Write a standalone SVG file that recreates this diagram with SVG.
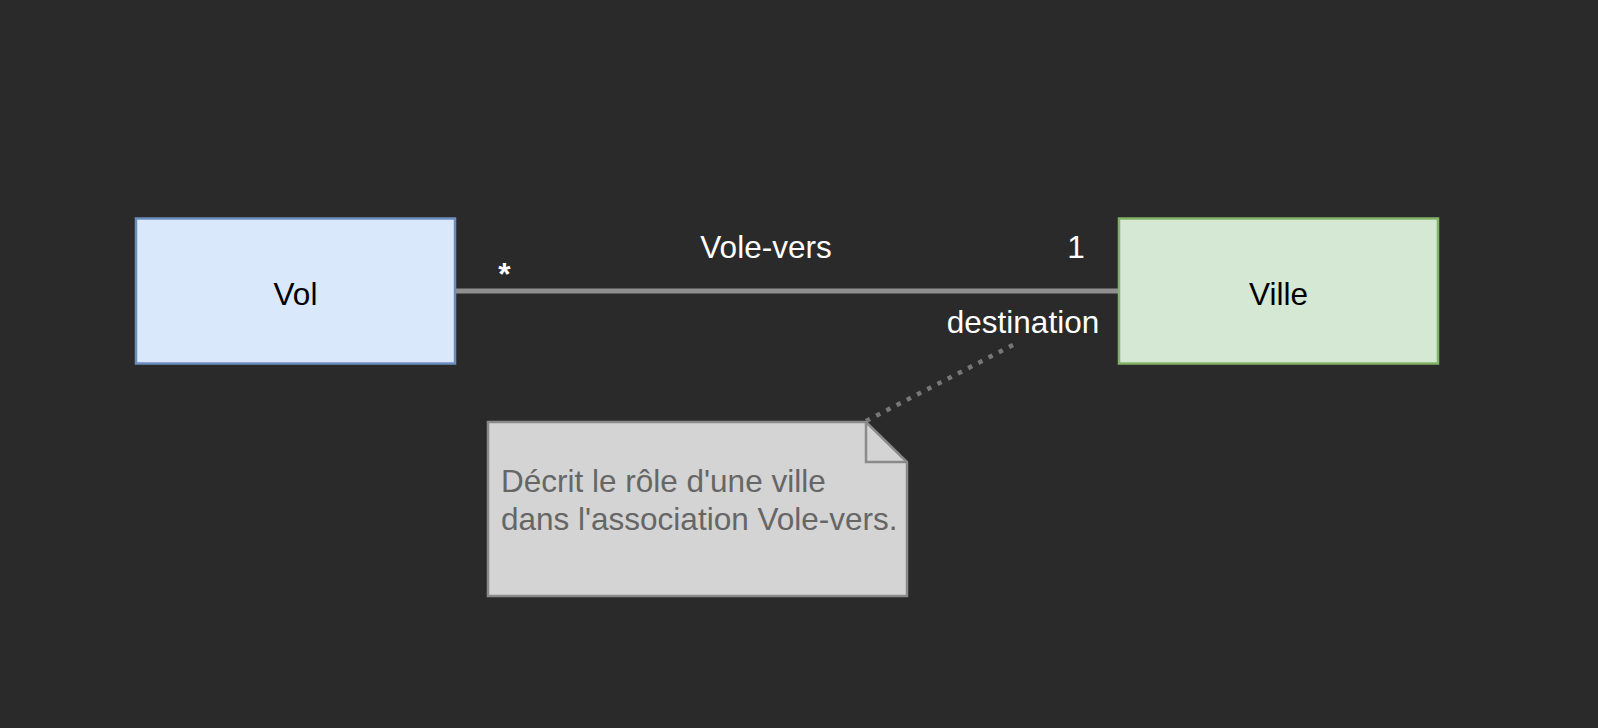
<svg xmlns="http://www.w3.org/2000/svg" width="1598" height="728" viewBox="0 0 1598 728">
<style>
text{font-family:"Liberation Sans",Arial,Helvetica,sans-serif;font-size:31.5px}
.lbl{fill:#ffffff}
.node{fill:#000000}
.note{fill:#666666}
</style>
<rect x="0" y="0" width="1598" height="728" fill="#2a2a2a"/>
<g id="connectors">
<line x1="455" y1="291" x2="1119" y2="291" stroke="#8f8f8f" stroke-width="5"/>
<line x1="866" y1="421" x2="1013" y2="345" stroke="#777777" stroke-width="4.5" stroke-dasharray="4.5 7"/>
<text class="lbl" x="766" y="258" text-anchor="middle">Vole-vers</text>
<text class="lbl" x="504.5" y="285" font-weight="bold" font-size="50" text-anchor="middle">*</text>
<text class="lbl" x="1076" y="258" text-anchor="middle">1</text>
<text class="lbl" x="1023" y="333" text-anchor="middle">destination</text>
</g>
<g id="vol">
<rect x="136" y="218.5" width="319" height="145" fill="#dae8fc" stroke="#6c8ebf" stroke-width="2.5"/>
<text class="node" x="295.5" y="305" text-anchor="middle">Vol</text>
</g>
<g id="ville">
<rect x="1119" y="218.5" width="319" height="145" fill="#d5e8d4" stroke="#82b366" stroke-width="2.5"/>
<text class="node" x="1278.5" y="305" text-anchor="middle">Ville</text>
</g>
<g id="note">
<path d="M488 422 H866 L907 462 V596 H488 Z" fill="#d4d4d4" stroke="#8a8a8a" stroke-width="2.5"/>
<path d="M866 422 V462 H907" fill="none" stroke="#8a8a8a" stroke-width="2.5"/>
<text class="note" x="501" y="492">Décrit le rôle d'une ville</text>
<text class="note" x="501" y="530">dans l'association Vole-vers.</text>
</g>
</svg>
